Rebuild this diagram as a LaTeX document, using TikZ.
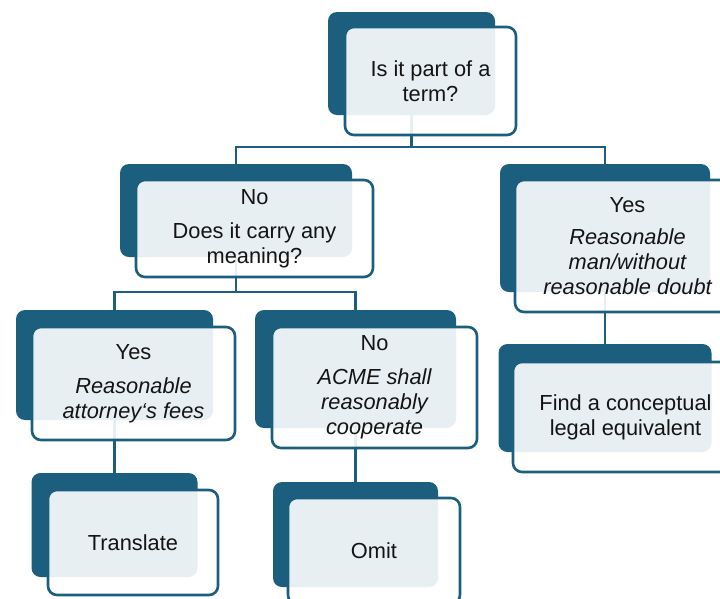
\documentclass[tikz,border=0pt]{standalone}
\usepackage{fontspec}
\setmainfont{Liberation Sans}
\usetikzlibrary{backgrounds}
\definecolor{deepteal}{RGB}{27,94,126}
\definecolor{inkgray}{RGB}{20,20,20}
\tikzset{
x=1pt, y=-1pt,
font=\fontsize{21.8}{25}\selectfont, % text size of every box
back/.style={fill=deepteal, rounded corners=9pt, inner sep=0pt}, % dark card behind
front/.style={draw=deepteal, line width=2.6pt, fill=white, fill opacity=0.9, text opacity=1,
  text=inkgray, rounded corners=9pt, inner sep=0pt, align=center}, % light card in front
link/.style={draw=deepteal, line width=2.6pt}, % connectors between the cards
}

\begin{document}
\begin{tikzpicture}
\useasboundingbox (0,0) rectangle (720,598);
\clip (0,0) rectangle (720,598);
% back cards
\node[back, minimum width=167pt, minimum height=103pt] at (411.5, 63.5) (termB) {};
\node[back, minimum width=232pt, minimum height=93pt] at (236, 210.5) (carryB) {};
\node[back, minimum width=210pt, minimum height=128pt] at (605, 228) (manB) {};
\node[back, minimum width=213pt, minimum height=108pt] at (605, 398) (equivB) {};
\node[back, minimum width=197pt, minimum height=110pt] at (114.5, 365) (feesB) {};
\node[back, minimum width=201pt, minimum height=118pt] at (355.5, 369) (acmeB) {};
\node[back, minimum width=166pt, minimum height=104pt] at (114.5, 525) (transB) {};
\node[back, minimum width=165pt, minimum height=105pt] at (355.5, 534.5) (omitB) {};
% front cards
\node[front, minimum width=171pt, minimum height=108pt] at (430.5, 81) (term) {Is it part of a\\term?};
\node[front, minimum width=237pt, minimum height=97pt] at (254.5, 228.5) (carry) {No\\[9pt]Does it carry any\\meaning?};
\node[front, minimum width=225pt, minimum height=132pt] at (627.5, 246) (man) {Yes\\[7pt]\itshape Reasonable\\\itshape man/without\\\itshape reasonable doubt};
\node[front, minimum width=225pt, minimum height=110pt] at (625.5, 417) (equiv) {Find a conceptual\\legal equivalent};
\node[front, minimum width=203pt, minimum height=113pt] at (133.5, 383.5) (fees) {Yes\\[9pt]\itshape Reasonable\\\itshape attorney‘s fees};
\node[front, minimum width=205pt, minimum height=121pt] at (374.5, 387.5) (acme) {No\\[9pt]\itshape ACME shall\\\itshape reasonably\\\itshape cooperate};
\node[front, minimum width=170pt, minimum height=105pt] at (133, 542.5) (trans) {Translate};
\node[front, minimum width=172pt, minimum height=106pt] at (374, 551) (omit) {Omit};
% connectors
\coordinate (fork1) at (411.5, 147);
\coordinate (fork2) at (236, 292);
\begin{scope}[on background layer]
\draw[link] (termB.south) -- (fork1);
\draw[link] (carryB.north) |- (fork1) -| (manB.north);
\draw[link] (carryB.south) -- (fork2);
\draw[link] (feesB.north) |- (fork2) -| (acmeB.north);
\draw[link] (feesB.south) -- (transB.north);
\draw[link] (acmeB.south) -- (omitB.north);
\draw[link] (manB.south) -- (equivB.north);
\end{scope}
\end{tikzpicture}
\end{document}
